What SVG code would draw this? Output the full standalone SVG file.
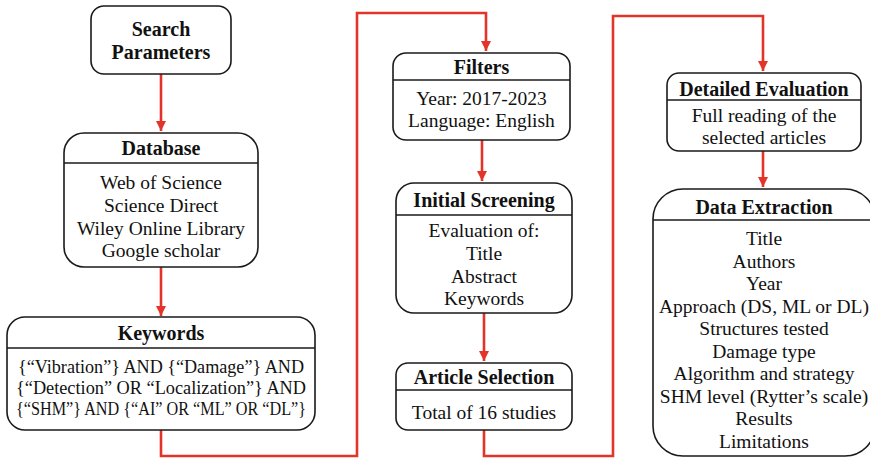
<svg xmlns="http://www.w3.org/2000/svg" width="870" height="459" viewBox="0 0 870 459">
  <defs>
    <marker id="arrow" viewBox="0 0 10 10" refX="10" refY="5" markerWidth="4" markerHeight="4" orient="auto" markerUnits="strokeWidth">
      <path d="M0,0 L10,5 L0,10 z" fill="#e3342a"/>
    </marker>
    <style>
      .box { fill: #fff; stroke: #1a1a1a; stroke-width: 1.6; }
      .div { stroke: #1a1a1a; stroke-width: 1.4; }
      .title { font-family: "Liberation Serif", "Times New Roman", serif; font-weight: bold; font-size: 20px; fill: #111; text-anchor: middle; }
      .body { font-family: "Liberation Serif", "Times New Roman", serif; font-size: 19.5px; fill: #111; text-anchor: middle; }
      .link { fill: none; stroke: #e3342a; stroke-width: 2.6; }
    </style>
  </defs>
  <rect width="870" height="459" fill="#fff"/>

  <g id="connectors">
    <path class="link" d="M161,74 V131" marker-end="url(#arrow)"/>
    <path class="link" d="M161,267 V316" marker-end="url(#arrow)"/>
    <path class="link" d="M161,430 V456 H357 V13 H486 V51" marker-end="url(#arrow)"/>
    <path class="link" d="M482,140 V181" marker-end="url(#arrow)"/>
    <path class="link" d="M484,313 V361" marker-end="url(#arrow)"/>
    <path class="link" d="M484,430 V456 H613 V16 H763 V71" marker-end="url(#arrow)"/>
    <path class="link" d="M763,151 V187" marker-end="url(#arrow)"/>
  </g>

  <g id="search-parameters">
    <rect class="box" x="91" y="6" width="140" height="68" rx="13"/>
    <text class="title" x="161" y="36">Search</text>
    <text class="title" x="161" y="59">Parameters</text>
  </g>

  <g id="database">
    <rect class="box" x="64" y="133" width="194" height="134" rx="20"/>
    <line class="div" x1="64" y1="163" x2="258" y2="163"/>
    <text class="title" x="161" y="155">Database</text>
    <text class="body" x="161" y="189">Web of Science</text>
    <text class="body" x="161" y="212">Science Direct</text>
    <text class="body" x="161" y="235">Wiley Online Library</text>
    <text class="body" x="161" y="257">Google scholar</text>
  </g>

  <g id="keywords">
    <rect class="box" x="7" y="317" width="308" height="113" rx="18"/>
    <line class="div" x1="7" y1="348" x2="315" y2="348"/>
    <text class="title" x="161" y="340">Keywords</text>
    <text class="body" x="161" y="373" textLength="286" lengthAdjust="spacingAndGlyphs">{“Vibration”} AND {“Damage”} AND</text>
    <text class="body" x="161" y="394" textLength="290" lengthAdjust="spacingAndGlyphs">{“Detection” OR “Localization”} AND</text>
    <text class="body" x="161" y="415" textLength="290" lengthAdjust="spacingAndGlyphs">{“SHM”} AND {“AI” OR “ML” OR “DL”}</text>
  </g>

  <g id="filters">
    <rect class="box" x="393" y="53" width="177" height="87" rx="13"/>
    <line class="div" x1="393" y1="80" x2="570" y2="80"/>
    <text class="title" x="481.5" y="74">Filters</text>
    <text class="body" x="481.5" y="105">Year: 2017-2023</text>
    <text class="body" x="481.5" y="127">Language: English</text>
  </g>

  <g id="initial-screening">
    <rect class="box" x="396" y="183" width="176" height="130" rx="18"/>
    <line class="div" x1="396" y1="215" x2="572" y2="215"/>
    <text class="title" x="484" y="207">Initial Screening</text>
    <text class="body" x="484" y="237">Evaluation of:</text>
    <text class="body" x="484" y="260">Title</text>
    <text class="body" x="484" y="283">Abstract</text>
    <text class="body" x="484" y="305">Keywords</text>
  </g>

  <g id="article-selection">
    <rect class="box" x="396" y="363" width="176" height="67" rx="12"/>
    <line class="div" x1="396" y1="390" x2="572" y2="390"/>
    <text class="title" x="484" y="384">Article Selection</text>
    <text class="body" x="484" y="419">Total of 16 studies</text>
  </g>

  <g id="detailed-evaluation">
    <rect class="box" x="667" y="73" width="194" height="78" rx="12"/>
    <line class="div" x1="667" y1="100" x2="861" y2="100"/>
    <text class="title" x="764" y="96">Detailed Evaluation</text>
    <text class="body" x="764" y="122">Full reading of the</text>
    <text class="body" x="764" y="144">selected articles</text>
  </g>

  <g id="data-extraction">
    <rect class="box" x="653" y="189" width="222" height="267" rx="30"/>
    <line class="div" x1="653" y1="220" x2="875" y2="220"/>
    <text class="title" x="764" y="214">Data Extraction</text>
    <text class="body" x="764" y="245">Title</text>
    <text class="body" x="764" y="267.5">Authors</text>
    <text class="body" x="764" y="290">Year</text>
    <text class="body" x="764" y="312.5">Approach (DS, ML or DL)</text>
    <text class="body" x="764" y="335">Structures tested</text>
    <text class="body" x="764" y="357.5">Damage type</text>
    <text class="body" x="764" y="380">Algorithm and strategy</text>
    <text class="body" x="764" y="402.5">SHM level (Rytter’s scale)</text>
    <text class="body" x="764" y="425">Results</text>
    <text class="body" x="764" y="447.5">Limitations</text>
  </g>
</svg>
